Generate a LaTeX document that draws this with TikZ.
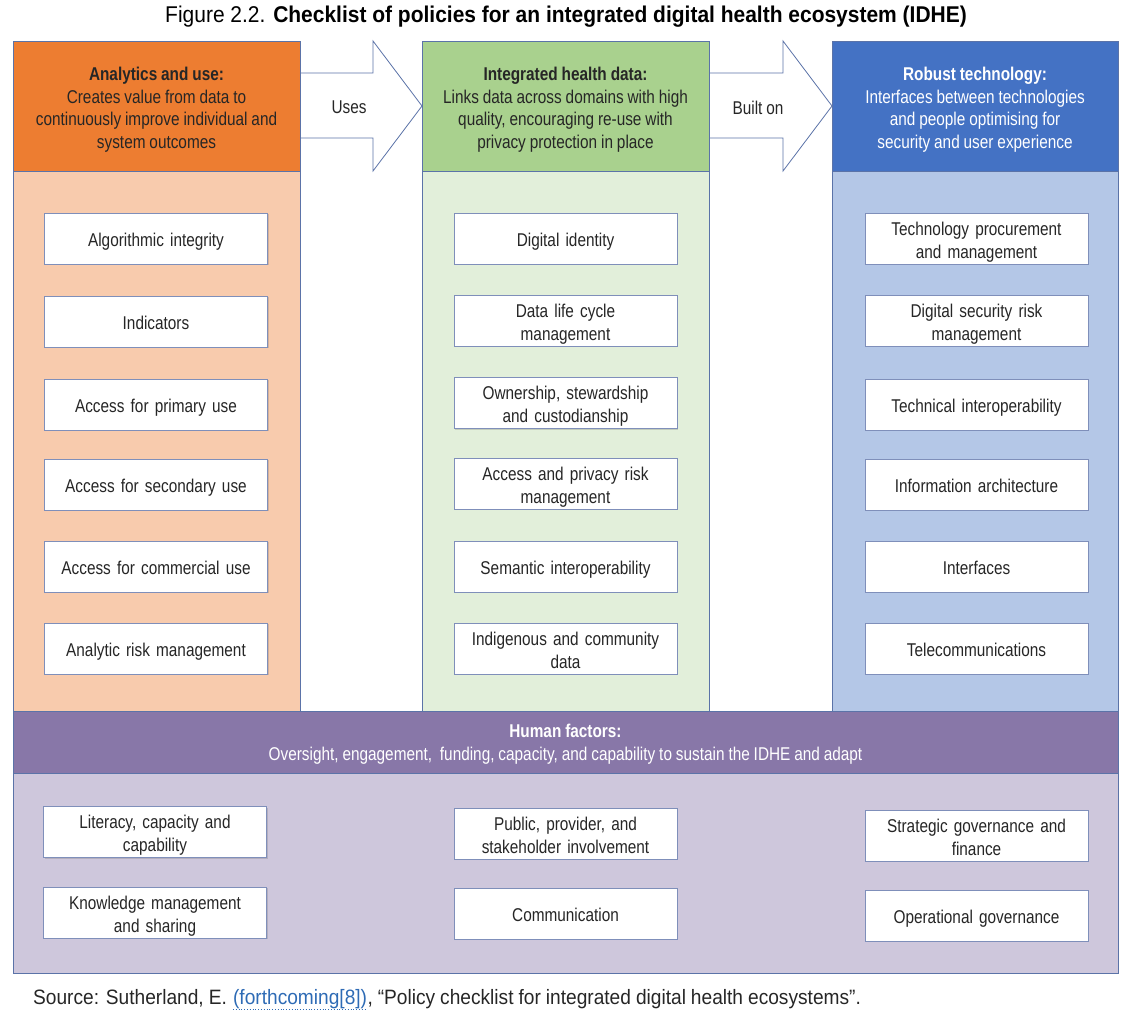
\documentclass[tikz,border=0pt]{standalone}
\usepackage{fontspec}
\usetikzlibrary{shadows}
\setmainfont{Liberation Sans}[FakeStretch=0.83]
\newfontfamily\widefont{Liberation Sans}[FakeStretch=0.92]
\definecolor{orH}{HTML}{ED7D31}
\definecolor{orL}{HTML}{F8CBAD}
\definecolor{grH}{HTML}{A9D18E}
\definecolor{grL}{HTML}{E2EFDA}
\definecolor{blH}{HTML}{4472C4}
\definecolor{blL}{HTML}{B4C7E7}
\definecolor{puH}{HTML}{8877A8}
\definecolor{puL}{HTML}{CEC7DC}
\definecolor{edge}{HTML}{5B73A8}
\definecolor{boxedge}{HTML}{7F8FBA}
\definecolor{txt}{HTML}{262626}
\definecolor{link}{HTML}{2E6BB5}
\newcommand{\mainsz}{\fontsize{18.5}{23}\selectfont\spaceskip=3.9pt plus 1.5pt minus 1pt\relax}
\newcommand{\headsz}{\fontsize{18.5}{22.5}\selectfont\spaceskip=3.9pt plus 1.5pt minus 1pt\relax}
\newcommand{\srcsz}{\widefont\fontsize{20.8}{24}\selectfont\spaceskip=5pt plus 1.5pt minus 1pt\relax}
\begin{document}
\begin{tikzpicture}[x=1pt,y=-1pt,
  panel/.style={draw=edge,line width=0.9pt},
  headtxt/.style={align=center,font=\headsz,text=txt,inner sep=0pt},
  item/.style={draw=boxedge,fill=white,line width=0.9pt,minimum width=223pt,minimum height=51pt,
     drop shadow={shadow xshift=1.2pt,shadow yshift=-1.2pt,opacity=0.25,fill=black!60},
     text width=212pt,align=center,inner sep=0pt,font=\mainsz,text=txt,
     execute at begin node={\rule{0pt}{20.5pt}},
     execute at end node={\rule[-4.3pt]{0pt}{4.3pt}}},
  blockarrow/.style={draw=edge,fill=white,line width=0.8pt,line join=miter},
  arrtxt/.style={font=\mainsz,text=txt,inner sep=0pt},
  srctxt/.style={inner sep=0pt,font=\srcsz,text=txt}]
\useasboundingbox (0,0) rectangle (1132,1016);
% title
\node (title) at (566,17) {\widefont\fontsize{22.8}{26}\selectfont Figure 2.2. \textbf{Checklist of policies for an integrated digital health ecosystem (IDHE)}};
% block arrows
\path[blockarrow] (300,73) -- (373,73) -- (373,41) -- (422,106) -- (373,171) -- (373,138) -- (300,138);
\path[blockarrow] (709,73) -- (783,73) -- (783,41) -- (832,106) -- (783,171) -- (783,138) -- (709,138);
\node[arrtxt] (uses) at (349,107.5) {Uses};
\node[arrtxt] (builton) at (758,107.5) {Built on};
% column panels
\path[panel,fill=orL] (13,171) rectangle (300,712);
\path[panel,fill=orH] (13,41) rectangle (300,171);
\path[panel,fill=grL] (422,171) rectangle (709,712);
\path[panel,fill=grH] (422,41) rectangle (709,171);
\path[panel,fill=blL] (832,171) rectangle (1118,712);
\path[panel,fill=blH] (832,41) rectangle (1118,171);
% bottom panels
\path[panel,fill=puL] (13,773) rectangle (1118,973);
\path[panel,fill=puH] (13,711) rectangle (1118,773);
% headers
\node[headtxt] (hA) at (156.5,109.5) {\textbf{Analytics and use:}\\Creates value from data to\\continuously improve individual and\\system outcomes};
\node[headtxt] (hI) at (565.5,109.5) {\textbf{Integrated health data:}\\Links data across domains with high\\quality, encouraging re-use with\\privacy protection in place};
\node[headtxt,text=white] (hR) at (975,109.5) {\textbf{Robust technology:}\\Interfaces between technologies\\and people optimising for\\security and user experience};
\node[headtxt,text=white] (hH) at (565.5,744) {\textbf{Human factors:}\\Oversight, engagement,\ \ funding, capacity, and capability to sustain the IDHE and adapt};
% left column items
\node[item] (a1) at (156,238.5) {Algorithmic integrity};
\node[item] (a2) at (156,321.5) {Indicators};
\node[item] (a3) at (156,404.5) {Access for primary use};
\node[item] (a4) at (156,484.5) {Access for secondary use};
\node[item] (a5) at (156,566.5) {Access for commercial use};
\node[item] (a6) at (156,648.5) {Analytic risk management};
% middle column items
\node[item] (m1) at (565.5,238.5) {Digital identity};
\node[item] (m2) at (565.5,320.5) {Data life cycle\\management};
\node[item] (m3) at (565.5,403) {Ownership, stewardship\\and custodianship};
\node[item] (m4) at (565.5,483.5) {Access and privacy risk\\management};
\node[item] (m5) at (565.5,566.5) {Semantic interoperability};
\node[item] (m6) at (565.5,648.5) {Indigenous and community\\data};
% right column items
\node[item] (r1) at (976.5,238.5) {Technology procurement\\and management};
\node[item] (r2) at (976.5,320.5) {Digital security risk\\management};
\node[item] (r3) at (976.5,404.5) {Technical interoperability};
\node[item] (r4) at (976.5,484.5) {Information architecture};
\node[item] (r5) at (976.5,566.5) {Interfaces};
\node[item] (r6) at (976.5,648.5) {Telecommunications};
% human factor items
\node[item] (h1) at (155,832) {Literacy, capacity and\\capability};
\node[item] (h2) at (155,912.5) {Knowledge management\\and sharing};
\node[item] (h3) at (565.5,833.5) {Public, provider, and\\stakeholder involvement};
\node[item] (h4) at (565.5,913.5) {Communication};
\node[item] (h5) at (976.5,835.5) {Strategic governance and\\finance};
\node[item] (h6) at (976.5,915.5) {Operational governance};
% source
\node[srctxt,anchor=base west] (src1) at (33,1004) {Source: Sutherland, E.\kern0.28em};
\node[srctxt,anchor=base west,text=link] (srclink) at (src1.base east) {(forthcoming[8])};
\node[srctxt,anchor=base west] (src2) at (srclink.base east) {, “Policy checklist for integrated digital health ecosystems”.};
\draw[link,dotted,line width=0.8pt] ([yshift=-5.5pt]srclink.base west) -- ([yshift=-5.5pt]srclink.base east);
\end{tikzpicture}
\end{document}
